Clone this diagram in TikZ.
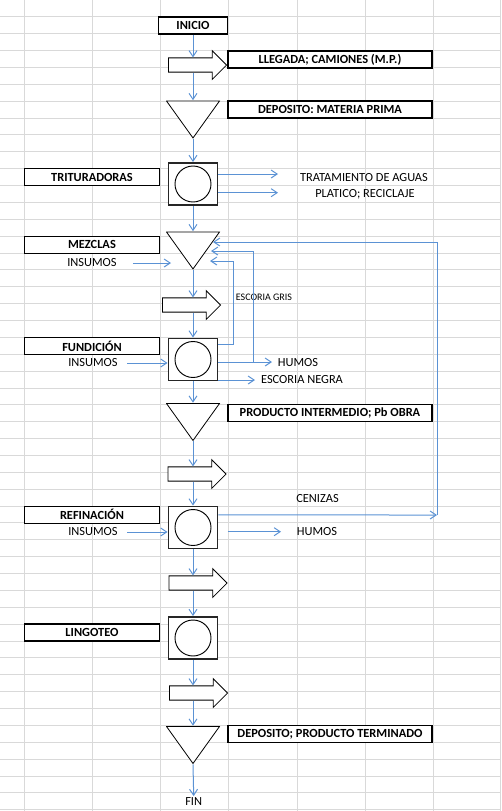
\documentclass[tikz,border=0pt]{standalone}
\usepackage{fontspec}
\setmainfont{Carlito}
\usepackage{tikz}
\usetikzlibrary{arrows.meta,shapes.arrows}
\definecolor{flowblue}{RGB}{91,146,212}
\definecolor{gridgray}{RGB}{217,217,217}

\begin{document}
\begin{tikzpicture}[x=0.75pt, y=-0.75pt, font=\fontsize{9.3}{11}\selectfont,
	flow/.style={draw=flowblue, line width=0.75pt, -{Straight Barb[length=4.5pt,width=6pt]}},
	lbl/.style={draw, fill=white, line width=0.9pt, inner sep=0, minimum width=101.25pt, minimum height=12.75pt, font=\fontsize{9.3}{11}\selectfont\bfseries},
	wide/.style={lbl, minimum width=153pt},
	startbox/.style={lbl, minimum width=51.75pt},
	txt/.style={inner sep=1pt},
	proc/.style={draw=black!85, fill=white, line width=1.4pt, inner sep=0, minimum width=36.75pt, minimum height=31.5pt,
	  path picture={\draw[black, line width=0.7pt] (path picture bounding box.center) circle (13.5pt);}},
	tri/.style={inner sep=0, minimum width=40.5pt, minimum height=28.5pt,
	  path picture={\filldraw[fill=white, line width=0.6pt] ([xshift=0.4pt,yshift=-0.4pt]path picture bounding box.north west) -- ([xshift=-0.4pt,yshift=-0.4pt]path picture bounding box.north east) -- ([yshift=0.4pt]path picture bounding box.south) -- cycle;}},
	blk/.style={single arrow, draw, fill=white, line width=0.6pt, inner xsep=0, inner ysep=5.05pt, minimum height=43.5pt, single arrow head extend=5.45pt, single arrow tip angle=90}]
	\useasboundingbox (0,0) rectangle (501,811);
	\foreach \c in {24,92,160,228,297,365,433,500}
	  \draw[gridgray, line width=0.75pt] (\c,0) -- (\c,811);
	\foreach \r in {1,...,48}
	  \draw[gridgray, line width=0.75pt] (0,16.87*\r) -- (501,16.87*\r);

	\node[startbox] (inicio) at (193,25.5) {INICIO};
	\node[wide] (llegada) at (330,59.5) {LLEGADA; CAMIONES (M.P.)};
	\node[blk] (blk1) at (194,65) {};
	\node[tri] (depmp) at (193,119.5) {};
	\node[wide] (depmptxt) at (330,109.5) {DEPOSITO: MATERIA PRIMA};
	\node[proc] (trit) at (193,184) {};
	\node[lbl] (trittxt) at (92,177) {TRITURADORAS};
	\node[txt] (tratam) at (364,178) {TRATAMIENTO DE AGUAS};
	\node[txt] (platico) at (365,194) {PLATICO; RECICLAJE};
	\node[tri] (mezcla) at (193,250.5) {};
	\node[lbl] (mezcltxt) at (92,244.6) {MEZCLAS};
	\node[txt] (ins1) at (92,263) {INSUMOS};
	\node[blk] (blk2) at (188,305) {};
	\node[txt, font=\fontsize{7.5}{8}\selectfont] (gris) at (264,297.5) {ESCORIA GRIS};
	\node[proc] (fund) at (193,359.5) {};
	\node[lbl] (fundtxt) at (92,345.9) {FUNDICIÓN};
	\node[txt] (ins2) at (93,363) {INSUMOS};
	\node[txt] (humos1) at (298,362.5) {HUMOS};
	\node[txt] (negra) at (302,380) {ESCORIA NEGRA};
	\node[tri] (interm) at (193,422) {};
	\node[wide] (intermtxt) at (330,413.3) {PRODUCTO INTERMEDIO; Pb OBRA};
	\node[blk] (blk3) at (193.5,474) {};
	\node[txt] (cenizas) at (317.5,498.3) {CENIZAS};
	\node[proc] (refin) at (193,527.5) {};
	\node[lbl] (refintxt) at (92,514.6) {REFINACIÓN};
	\node[txt] (ins3) at (93,532) {INSUMOS};
	\node[txt] (humos2) at (317,532) {HUMOS};
	\node[blk] (blk4) at (194.5,583) {};
	\node[proc] (lingot) at (193,638) {};
	\node[lbl] (lingottxt) at (92,632.5) {LINGOTEO};
	\node[blk] (blk5) at (195,693) {};
	\node[tri] (final) at (193,745) {};
	\node[wide] (finaltxt) at (330,733.9) {DEPOSITO; PRODUCTO TERMINADO};
	\node[txt] (fin) at (193.7,801.7) {FIN};

	\coordinate (aguas) at (278,174);
	\coordinate (plast) at (278,192.7);
	\coordinate (ins1e) at (171,263);
	\coordinate (back1) at (213,242);
	\coordinate (back2) at (211,251);
	\coordinate (back3) at (210,261);
	\coordinate (grisup) at (233,261);
	\coordinate (humosup) at (253,362);
	\coordinate (humos1w) at (272,362);
	\coordinate (negraw) at (255,380);
	\coordinate (cenz) at (437,515);
	\coordinate (humos2w) at (281,531.7);

	\draw[flow] (inicio.south) -- (inicio.south |- blk1.north);
	\draw[flow] (inicio.south |- blk1.south) -- (depmp.north);
	\draw[flow] (depmp.south) -- (trit.north);
	\draw[flow] (trit.east |- aguas) -- (aguas);
	\draw[flow] (trit.east |- plast) -- (plast);
	\draw[flow] (trit.south) -- (mezcla.north);
	\draw[flow] ([xshift=11pt]ins1.east) -- (ins1e);
	\draw[flow] (mezcla.south) -- (mezcla.south |- blk2.north);
	\draw[flow] (mezcla.south |- blk2.south) -- (fund.north);
	\draw[flow] ([xshift=6pt]ins2.east) -- (fund.west |- ins2.east);
	\draw[flow] ([yshift=10.9pt]fund.east) -| (grisup) -- (back3);
	\draw[flow] (fund.east |- humos1w) -- (humos1w);
	\draw[flow] (humosup) |- (back2);
	\draw[flow] (fund.east |- negraw) -- (negraw);
	\draw[flow] (fund.south) -- (interm.north);
	\draw[flow] (interm.south) -- (interm.south |- blk3.north);
	\draw[flow] (interm.south |- blk3.south) -- (refin.north);
	\draw[flow] ([xshift=6pt]ins3.east) -- (refin.west |- ins3.east);
	\draw[flow] ([yshift=9.4pt]refin.east) -- (cenz);
	\draw[flow] (cenz) |- (back1);
	\draw[flow] ([xshift=7pt]refin.east |- humos2w) -- (humos2w);
	\draw[flow] (refin.south) -- (refin.south |- blk4.north);
	\draw[flow] (refin.south |- blk4.south) -- (lingot.north);
	\draw[flow] (lingot.south) -- (lingot.south |- blk5.north);
	\draw[flow] (lingot.south |- blk5.south) -- (final.north);
	\draw[flow] (final.south) -- (fin.north);
\end{tikzpicture}
\end{document}
